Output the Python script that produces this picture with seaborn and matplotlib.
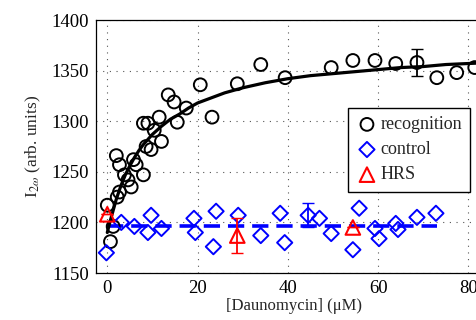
import numpy as np
import pandas as pd
import matplotlib
matplotlib.use("Agg")
import matplotlib.pyplot as plt
import seaborn as sns

# --- datos ---
rec_x = [0.0, 0.7, 1.3, 2.2, 2.7, 2.0, 2.7, 3.8, 4.6, 5.3, 5.8, 6.4, 8.0, 8.6,
         9.7, 12.0, 8.0, 9.0, 11.5, 10.4, 13.5, 14.8, 17.5, 15.5, 20.6, 23.2,
         28.8, 34.0, 39.4, 49.6, 54.4, 59.3, 63.9, 68.6, 73.0, 77.4, 81.4]
rec_y = [1217, 1181, 1196, 1225, 1230, 1266, 1257, 1247, 1242, 1235, 1262, 1257,
         1247, 1275, 1272, 1280, 1298, 1298, 1304, 1291, 1326, 1319, 1313, 1299,
         1336, 1304, 1337, 1356, 1343, 1353, 1360, 1360, 1357, 1358, 1343, 1348,
         1353]

# curva de ajuste (valores leidos a lo largo de la linea)
fit_x = [0, 0.5, 1, 1.5, 2, 3, 4, 5, 6, 7, 8, 9, 10, 12, 14, 16, 18, 20, 23,
         26, 30, 35, 40, 45, 50, 55, 60, 65, 70, 75, 80, 85]
fit_y = [1190, 1199, 1207, 1215, 1223, 1236, 1247, 1256, 1264, 1271, 1277,
         1282, 1287, 1295, 1302, 1307, 1313, 1318, 1323, 1328, 1333, 1338,
         1342, 1345, 1347, 1349, 1351, 1353, 1354, 1356, 1357, 1358]

ctl_x = [-0.2, 3.1, 6.0, 9.7, 9.0, 12.0, 19.2, 19.5, 24.1, 23.5, 29.0, 34.0,
         38.3, 39.3, 44.5, 47.0, 49.6, 55.8, 54.4, 59.3, 60.2, 63.9, 64.4,
         68.6, 72.8]
ctl_y = [1170, 1200, 1196, 1207, 1190, 1194, 1204, 1190, 1211, 1176, 1207, 1187,
         1209, 1180, 1207, 1204, 1189, 1214, 1173, 1194, 1184, 1199, 1193, 1205,
         1209]
ctl_mean = 1196
ctl_line_x = [0, 73]

hrs_x = [0.0, 28.8, 54.4]
hrs_y = [1208, 1187, 1195]
hrs_err = [0, 17, 0]

# barras de error sueltas
rec_err_x, rec_err_y, rec_err = [68.6], [1358], [13]
ctl_err_x, ctl_err_y, ctl_err = [44.5], [1207], [12]

sns.set_style("white")
plt.rcParams['font.family'] = ['Liberation Serif', 'DejaVu Serif']
plt.rcParams['mathtext.fontset'] = 'stix'
plt.rcParams['font.size'] = 11.5

fig = plt.figure(figsize=(4.77, 3.2), dpi=100)
ax = fig.add_axes([96 / 477, 47 / 320, (491 - 96) / 477, 253 / 320])

df_rec = pd.DataFrame({'x': rec_x, 'y': rec_y})
df_fit = pd.DataFrame({'x': fit_x, 'y': fit_y})
df_ctl = pd.DataFrame({'x': ctl_x, 'y': ctl_y})
df_hrs = pd.DataFrame({'x': hrs_x, 'y': hrs_y})

# linea media del control (discontinua)
ax.plot(ctl_line_x, [ctl_mean, ctl_mean], color='blue', lw=2.6,
        dashes=(4.5, 2.2), zorder=2)
sns.lineplot(data=df_fit, x='x', y='y', color='black', lw=2.3, ax=ax, zorder=3)

sns.scatterplot(data=df_rec, x='x', y='y', marker='o', s=85, facecolor='none',
                edgecolor='black', linewidth=1.4, ax=ax, zorder=4,
                label='recognition')
sns.scatterplot(data=df_ctl, x='x', y='y', marker='D', s=60, facecolor='none',
                edgecolor='blue', linewidth=1.4, ax=ax, zorder=4, label='control')
ax.errorbar(rec_err_x, rec_err_y, yerr=rec_err, fmt='none', ecolor='black',
            elinewidth=1.3, capsize=4, zorder=5)
ax.errorbar(ctl_err_x, ctl_err_y, yerr=ctl_err, fmt='none', ecolor='blue',
            elinewidth=1.3, capsize=4, zorder=5)
ax.errorbar(hrs_x, hrs_y, yerr=hrs_err, fmt='none', ecolor='red',
            elinewidth=1.3, capsize=4, zorder=5)
sns.scatterplot(data=df_hrs, x='x', y='y', marker='^', s=110, facecolor='none',
                edgecolor='red', linewidth=1.5, ax=ax, zorder=6, label='HRS')

ax.set_xlim(-2.5, 85)
ax.set_ylim(1150, 1400)
ax.set_xticks([0, 20, 40, 60, 80])
ax.set_yticks([1150, 1200, 1250, 1300, 1350, 1400])
ax.grid(True, color='#555555', linestyle=(0, (1, 5)), linewidth=0.8)
ax.tick_params(direction='in', length=4, color='black', labelcolor='black',
               labelsize=13.5, pad=5)
for sp in ax.spines.values():
    sp.set_color('black')
    sp.set_linewidth(0.9)

ax.set_xlabel('[Daunomycin] (μM)', fontsize=12, labelpad=1)
ax.set_ylabel(r'I$_{2\omega}$ (arb. units)', fontsize=12.5, labelpad=6)

leg = ax.legend(loc='upper left', bbox_to_anchor=(252 / 395, 1 - 88 / 253),
                borderaxespad=0, frameon=True, fancybox=False,
                edgecolor='black', framealpha=1, handletextpad=0.15,
                borderpad=0.45, labelspacing=0.45, handlelength=1.2,
                fontsize=13)
leg.get_frame().set_linewidth(1.0)

fig.savefig('out.png', dpi=100)
